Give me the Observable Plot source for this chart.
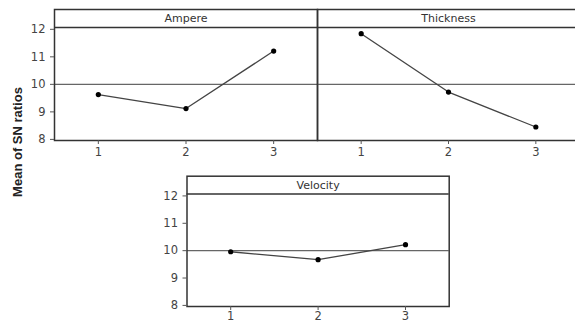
<!DOCTYPE html>
<html>
<head>
<meta charset="utf-8">
<script src="https://cdn.jsdelivr.net/npm/d3@7"></script>
<script src="https://cdn.jsdelivr.net/npm/@observablehq/plot@0.6"></script>
<style>
  html, body { margin: 0; padding: 0; background: #fff; overflow: hidden; }
  #wrap { position: relative; width: 575px; height: 322px; overflow: hidden; background: #fff; }
  #wrap svg { position: absolute; overflow: visible; background: transparent !important; }
  #ylab { position: absolute; left: 17px; top: 142px; transform: translate(-50%, -50%) rotate(-90deg);
          font: bold 13px "Liberation Sans", Arial, sans-serif; color: #222; white-space: nowrap; }
</style>
</head>
<body>
<div id="wrap"><div id="ylab">Mean of SN ratios</div></div>
<script>
const levels = [1, 2, 3];
const factors = ["Ampere", "Thickness", "Velocity"];
const ampere = [9.63, 9.12, 11.21];
const thickness = [11.84, 9.72, 8.45];
const velocity = [9.96, 9.67, 10.22];
const yTicks = [8, 9, 10, 11, 12];
const xTicks = [1, 2, 3];
const overallMean = 10;
const stripLine = 12.07;

const series = [ampere, thickness, velocity];

const layout = [
  {left: 0,   top: 0,   width: 320, height: 165, mL: 54,  mT: 9,  mB: 25, mR: 3,  yAxis: true, pad: 3},
  {left: 316, top: 0,   width: 266, height: 165, mL: 1,   mT: 9,  mB: 25, mR: 3,  yAxis: false, pad: 3},
  {left: 132, top: 160, width: 320, height: 162, mL: 54.5,mT: 15.7, mB: 16, mR: 3.3, yAxis: true, pad: 1}
];

const wrap = document.getElementById("wrap");
factors.forEach((name, i) => {
  const L = layout[i];
  const data = levels.map((lv, j) => ({level: lv, value: series[i][j]}));
  const marks = [
    Plot.ruleY([overallMean], {stroke: "#666", strokeWidth: 1.1}),
    Plot.ruleY([stripLine], {stroke: "#333", strokeWidth: 1.5}),
    Plot.frame({stroke: "#333", strokeWidth: 1.5}),
    Plot.text([name], {frameAnchor: "top", dy: 5, fontSize: 11, fill: "#333"}),
    Plot.line(data, {x: "level", y: "value", stroke: "#444", strokeWidth: 1.3}),
    Plot.dot(data, {x: "level", y: "value", r: 2.6, fill: "#000", stroke: "none"}),
    Plot.axisX({ticks: xTicks, tickFormat: "d", tickSize: 4, tickPadding: L.pad, stroke: "#555", fill: "#444", fontSize: 11.5, label: null})
  ];
  if (L.yAxis) {
    marks.push(Plot.axisY({ticks: yTicks, tickFormat: "d", tickSize: 4, tickPadding: 5, stroke: "#555", fill: "#444", fontSize: 11.5, label: null}));
  }
  const svg = Plot.plot({
    width: L.width, height: L.height,
    marginLeft: L.mL, marginTop: L.mT, marginBottom: L.mB, marginRight: L.mR,
    style: {fontFamily: "'DejaVu Sans', sans-serif", fontSize: "11px", background: "transparent"},
    x: {domain: [0.5, 3.5], axis: null},
    y: {domain: [7.96, 12.72], axis: null},
    marks
  });
  svg.style.left = L.left + "px";
  svg.style.top = L.top + "px";
  wrap.appendChild(svg);
});
</script>
</body>
</html>
